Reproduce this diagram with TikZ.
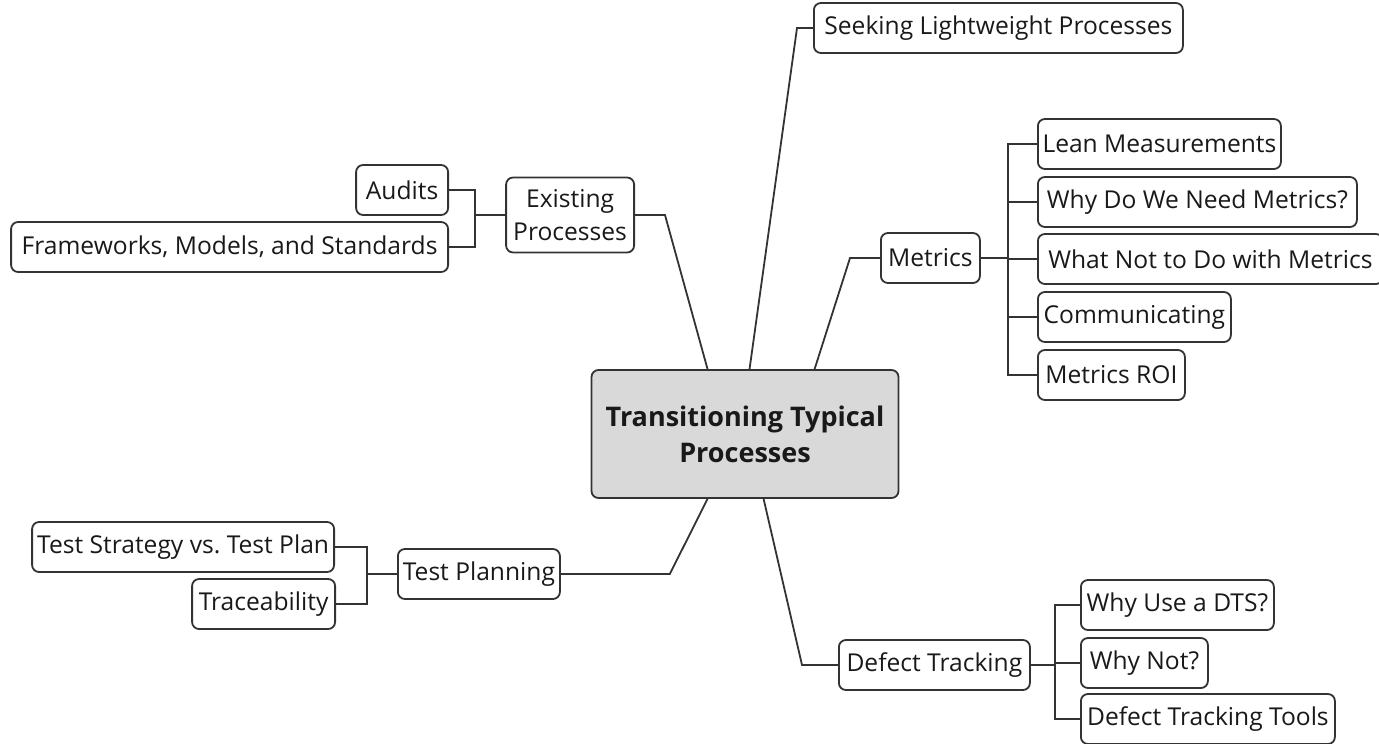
\documentclass[tikz,border=0pt]{standalone}
\usepackage{fontspec}
\setmainfont{Open Sans}

\definecolor{linegray}{HTML}{333333}
\definecolor{boxgray}{HTML}{D9D9D9}

\tikzset{
  topic/.style={draw=linegray, line width=1.8pt, rounded corners=7pt,
    minimum height=50pt, inner xsep=4pt, text=black!90, align=center,
    font=\fontsize{24.6}{33}\selectfont},
  central/.style={topic, fill=boxgray, minimum width=307pt, minimum height=128pt,
    font=\fontsize{27}{36}\selectfont\bfseries},
  link/.style={draw=linegray, line width=1.8pt}
}

\begin{document}
\begin{tikzpicture}[x=1pt,y=-1pt]
\useasboundingbox (0,0) rectangle (1379,744);

% Central topic
\node[central] (center) at (745,434) {Transitioning Typical\\Processes};

% Main branches
\node[topic, minimum width=369pt, anchor=west] (seek) at (813,28) {Seeking Lightweight Processes};
\node[topic, minimum width=128pt, minimum height=75pt, anchor=east] (exist) at (635,215) {Existing\\Processes};
\node[topic, minimum width=99pt, anchor=west] (metrics) at (880,258) {Metrics};
\node[topic, minimum width=162pt, anchor=west] (testplan) at (397,574) {Test Planning};
\node[topic, minimum width=191pt, anchor=west] (defect) at (838,665) {Defect Tracking};

% Subtopics of Existing Processes
\node[topic, minimum width=92pt, anchor=east] (audits) at (449,190) {Audits};
\node[topic, minimum width=437pt, anchor=east] (frame) at (449,247) {Frameworks, Models, and Standards};

% Subtopics of Metrics
\node[topic, minimum width=243pt, anchor=west] (lean) at (1037,144) {Lean Measurements};
\node[topic, minimum width=319pt, anchor=west] (whyneed) at (1037,202) {Why Do We Need Metrics?};
\node[topic, minimum width=345pt, anchor=west] (whatnot) at (1037,259) {What Not to Do with Metrics};
\node[topic, minimum width=193pt, anchor=west] (comm) at (1037,317) {Communicating};
\node[topic, minimum width=147pt, anchor=west] (roi) at (1037,375) {Metrics ROI};

% Subtopics of Test Planning
\node[topic, minimum width=302pt, anchor=east] (strat) at (335,547) {Test Strategy vs.\ Test Plan};
\node[topic, minimum width=143pt, anchor=east] (trace) at (336,604) {Traceability};

% Subtopics of Defect Tracking
\node[topic, minimum width=193pt, anchor=west] (whyuse) at (1080,605) {Why Use a DTS?};
\node[topic, minimum width=127pt, anchor=west] (whynot) at (1080,663) {Why Not?};
\node[topic, minimum width=254pt, anchor=west] (tools) at (1080,719) {Defect Tracking Tools};

% Connect the main branches to the central topic
\draw[link] (exist.east) -- ++(30,0) -- (center.120);
\draw[link] (seek.west) -- ++(-16,0) -- (center.86);
\draw[link] (metrics.west) -- ++(-30,0) -- (center.43);
\draw[link] (testplan.east) -- ++(109,0) -- (center.240);
\draw[link] (defect.west) -- ++(-36,0) -- (center.286);

% Draw the brackets to the subtopics
\foreach \leaf in {audits,frame}
  \draw[link] (exist.west) -- ++(-30,0) |- (\leaf.east);
\foreach \leaf in {lean,whyneed,whatnot,comm,roi}
  \draw[link] (metrics.east) -- ++(27,0) |- (\leaf.west);
\foreach \leaf in {strat,trace}
  \draw[link] (testplan.west) -- ++(-30,0) |- (\leaf.east);
\foreach \leaf in {whyuse,whynot,tools}
  \draw[link] (defect.east) -- ++(24,0) |- (\leaf.west);

\end{tikzpicture}
\end{document}
